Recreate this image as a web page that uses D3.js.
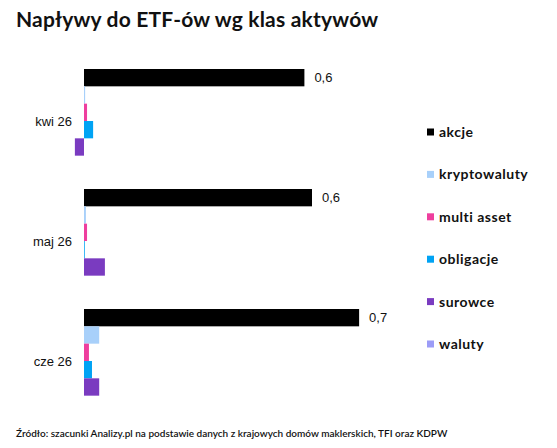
<!DOCTYPE html>
<html><head><meta charset="utf-8">
<script src="https://cdn.jsdelivr.net/npm/d3@7"></script>
<style>body{margin:0;background:#fff}svg{display:block}</style>
</head><body>
<svg id="c" width="557" height="448"></svg>
<script>
const categories = ["kwi 26", "maj 26", "cze 26"];
const seriesNames = ["akcje", "kryptowaluty", "multi asset", "obligacje", "surowce", "waluty"];
const akcje = [0.58, 0.60, 0.724];
const kryptowaluty = [0.003, 0.005, 0.04];
const multiAsset = [0.008, 0.008, 0.013];
const obligacje = [0.024, 0.002, 0.021];
const surowce = [-0.024, 0.055, 0.04];
const waluty = [0, 0, 0];
const colors = ["#000000", "#a8d0fa", "#ee3e9e", "#00a3f4", "#7a3bc0", "#9c9cf7"];

const seriesValues = [akcje, kryptowaluty, multiAsset, obligacje, surowce, waluty];
const svg = d3.select("#c");

const x = d3.scaleLinear().domain([0, 1]).range([84, 464]);
const y0 = d3.scaleBand().domain(categories).range([61, 421]).paddingInner(16/120).paddingOuter(8/120);
const y1 = d3.scaleBand().domain(seriesNames).range([0, y0.bandwidth()]);
const fmt = v => d3.format(".1f")(v).replace(".", ",");

svg.append("text").attr("x", 16).attr("y", 27)
  .style("font-family", "Lato, sans-serif").style("font-weight", 700).style("font-size", "21px")
  .style("letter-spacing", "0.2px")
  .attr("fill", "#111").text("Napływy do ETF-ów wg klas aktywów");

const g = svg.append("g");
categories.forEach((c, ci) => {
  const gy = y0(c);
  seriesNames.forEach((s, si) => {
    const v = seriesValues[si][ci];
    g.append("rect")
      .attr("x", Math.min(x(0), x(v)))
      .attr("y", gy + y1(s))
      .attr("width", Math.abs(x(v) - x(0)))
      .attr("height", y1.bandwidth())
      .attr("fill", colors[si]);
  });
  g.append("text").attr("x", 72).attr("y", gy + y0.bandwidth()/2).attr("dy", "0.35em")
    .attr("text-anchor", "end").style("font-family", "'Liberation Sans', Arial, sans-serif")
    .style("font-size", "13px").attr("fill", "#111").text(c);
  const v = akcje[ci];
  g.append("text").attr("x", x(v) + 10).attr("y", gy + y1("akcje") + y1.bandwidth()/2).attr("dy", "0.35em")
    .style("font-family", "'Liberation Sans', Arial, sans-serif")
    .style("font-size", "13px").attr("fill", "#111").text(fmt(v));
});

const legY = d3.scalePoint().domain(seriesNames).range([132, 344]);
seriesNames.forEach((s, i) => {
  svg.append("rect").attr("x", 427).attr("y", legY(s) - 3.5).attr("width", 7).attr("height", 7).attr("fill", colors[i]);
  svg.append("text").attr("x", 439).attr("y", legY(s)).attr("dy", "0.35em")
    .style("font-family", "Lato, sans-serif").style("font-weight", 700).style("font-size", "14px")
    .style("letter-spacing", "0.5px")
    .attr("fill", "#111").text(s);
});

svg.append("text").attr("x", 16).attr("y", 437)
  .style("font-family", "Lato, sans-serif").style("font-weight", 600).style("font-size", "10px")
  .attr("fill", "#111").text("Źródło: szacunki Analizy.pl na podstawie danych z krajowych domów maklerskich, TFI oraz KDPW");
</script>
</body></html>
